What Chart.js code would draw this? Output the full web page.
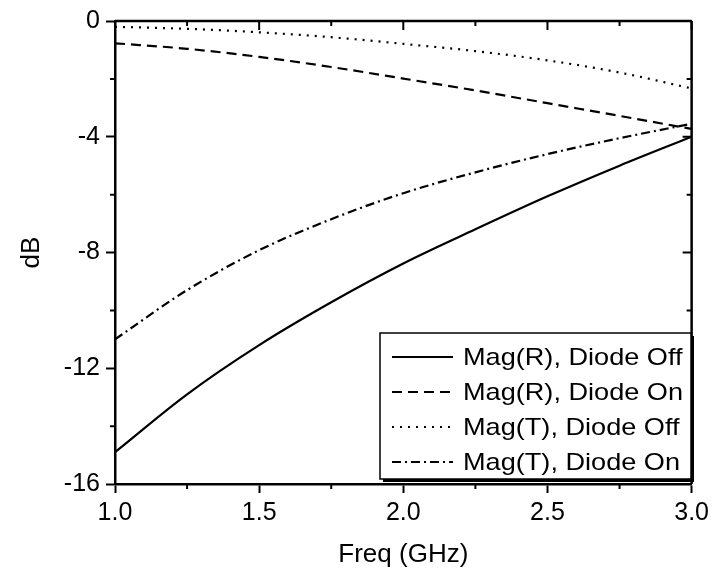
<!DOCTYPE html>
<html>
<head>
<meta charset="utf-8">
<script src="https://cdn.jsdelivr.net/npm/chart.js@4"></script>
<style>
  html, body { margin: 0; padding: 0; background: #fff; }
  #wrap { width: 714px; height: 575px; }
</style>
</head>
<body>
<div id="wrap"><canvas id="chart" width="714" height="575"></canvas></div>
<script>
// values (dB vs GHz)
const freq = [1.0, 1.25, 1.5, 1.75, 2.0, 2.25, 2.5, 2.75, 3.0];
const magROff = [-14.9, -12.9, -11.2, -9.72, -8.38, -7.2, -6.06, -5.0, -4.0];
const magROn = [-0.77, -0.96, -1.24, -1.59, -1.99, -2.4, -2.84, -3.28, -3.73];
const magTOff = [-0.2, -0.27, -0.39, -0.56, -0.79, -1.04, -1.36, -1.78, -2.33];
const magTOn = [-11.0, -9.3, -7.92, -6.85, -5.95, -5.23, -4.6, -4.05, -3.55];

const seriesNames = ["Mag(R), Diode Off", "Mag(R), Diode On", "Mag(T), Diode Off", "Mag(T), Diode On"];
const xTicks = [1.0, 1.5, 2.0, 2.5, 3.0];
const yTicks = [0, -4, -8, -12, -16];

const FONT = "'Liberation Sans', Arial, sans-serif";
const dashes = [[], [10, 6], [2, 6], [9, 4, 2, 4]];

function pts(ys) {
  return freq.map((f, i) => ({x: f, y: ys[i]}));
}

const datasets = [magROff, magROn, magTOff, magTOn].map((ys, i) => ({
  label: seriesNames[i],
  data: pts(ys),
  borderColor: "#000",
  borderWidth: 2.2,
  borderDash: dashes[i],
  pointRadius: 0,
  cubicInterpolationMode: "monotone",
  fill: false
}));

// minor ticks, mirrored top/right ticks, and the boxed legend
const framePlugin = {
  id: "frame",
  afterDraw(chart) {
    const ctx = chart.ctx;
    const a = chart.chartArea;
    const xs = chart.scales.x, ys = chart.scales.y;
    ctx.save();
    ctx.strokeStyle = "#000";
    ctx.lineWidth = 2.5;
    ctx.beginPath();
    ctx.moveTo(a.left, a.top); ctx.lineTo(a.right, a.top);
    ctx.moveTo(a.right, a.top); ctx.lineTo(a.right, a.bottom);
    ctx.stroke();

    ctx.lineWidth = 2;
    ctx.beginPath();
    for (let v = 1.0; v <= 3.0001; v += 0.25) {
      const px = xs.getPixelForValue(v);
      const major = Math.abs(v * 2 - Math.round(v * 2)) < 1e-6;
      const len = major ? 9 : 5;
      ctx.moveTo(px, a.top); ctx.lineTo(px, a.top + len);
      if (!major) { ctx.moveTo(px, a.bottom); ctx.lineTo(px, a.bottom + 5); }
    }
    for (let v = 0; v >= -16; v -= 2) {
      const py = ys.getPixelForValue(v);
      const major = v % 4 === 0;
      const len = major ? 9 : 5;
      ctx.moveTo(a.right, py); ctx.lineTo(a.right - len, py);
      if (!major) { ctx.moveTo(a.left, py); ctx.lineTo(a.left - 5, py); }
    }
    ctx.stroke();

    // legend box
    const bx = 380, by = 333, bw = 311, bh = 146;
    ctx.fillStyle = "#fff";
    ctx.fillRect(bx, by, bw, bh);
    ctx.fillStyle = "#000";
    ctx.fillRect(bx + 3, by + bh, bw, 3);
    ctx.fillRect(bx + bw, by + 3, 3, bh);
    ctx.lineWidth = 1.5;
    ctx.strokeRect(bx, by, bw, bh);

    ctx.font = "24px " + FONT;
    ctx.textBaseline = "middle";
    ctx.textAlign = "left";
    chart.data.datasets.forEach((ds, i) => {
      const y = 357 + i * 35;
      ctx.lineWidth = 2.2;
      ctx.setLineDash(ds.borderDash);
      ctx.beginPath();
      ctx.moveTo(392, y); ctx.lineTo(453, y);
      ctx.stroke();
      ctx.setLineDash([]);
      // reference text is slightly stretched sideways
      ctx.save();
      ctx.translate(463, y + 1);
      ctx.scale(1.13, 1);
      ctx.fillText(ds.label, 0, 0);
      ctx.restore();
    });
    ctx.restore();
  }
};

new Chart(document.getElementById("chart"), {
  type: "line",
  data: {datasets: datasets},
  options: {
    responsive: false,
    animation: false,
    layout: {padding: {top: 17, right: 21, left: 0, bottom: 0}},
    plugins: {legend: {display: false}, tooltip: {enabled: false}},
    scales: {
      x: {
        type: "linear",
        min: 1.0, max: 3.0,
        afterBuildTicks: s => { s.ticks = xTicks.map(v => ({value: v})); },
        afterFit: s => { s.height = 91; },
        ticks: {
          color: "#000", padding: 5, maxRotation: 0,
          font: {family: FONT, size: 25},
          callback: v => v.toFixed(1)
        },
        grid: {drawOnChartArea: false, drawTicks: true, tickLength: 9, tickWidth: 2, color: "#000"},
        border: {display: true, color: "#000", width: 2.5},
        title: {display: true, text: "Freq (GHz)", color: "#000", font: {family: FONT, size: 26}, padding: {top: 0, bottom: 5}}
      },
      y: {
        min: -16, max: 0,
        afterBuildTicks: s => { s.ticks = yTicks.map(v => ({value: v})); },
        afterFit: s => { s.width = 115; },
        ticks: {
          color: "#000", padding: 6,
          font: {family: FONT, size: 25},
          callback: v => String(v)
        },
        grid: {drawOnChartArea: false, drawTicks: true, tickLength: 9, tickWidth: 2, color: "#000"},
        border: {display: true, color: "#000", width: 2.5},
        title: {display: true, text: "dB", color: "#000", font: {family: FONT, size: 26}, padding: {top: 16, bottom: 0}}
      }
    }
  },
  plugins: [framePlugin]
});
</script>
</body>
</html>
